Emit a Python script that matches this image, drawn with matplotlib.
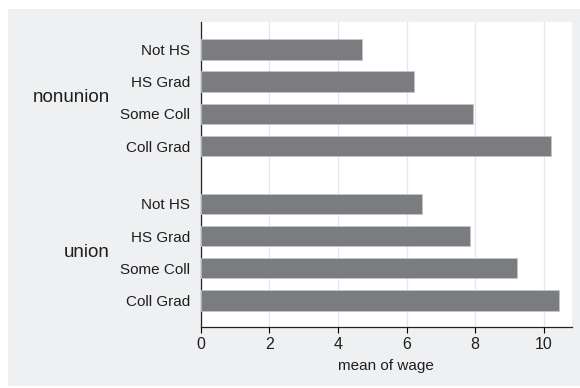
import matplotlib
matplotlib.use("Agg")
import matplotlib.pyplot as plt
import matplotlib.transforms as mtransforms
from matplotlib.patches import Rectangle

plt.rcParams['font.family'] = ['Liberation Sans', 'DejaVu Sans']

# data
groups = ['nonunion', 'union']
levels = ['Not HS', 'HS Grad', 'Some Coll', 'Coll Grad']
nonunion_wage = [4.69, 6.23, 7.93, 10.21]
union_wage = [6.44, 7.86, 9.22, 10.43]
x_ticks = [0, 2, 4, 6, 8, 10]

bar_color = '#7b7c80'
bg_color = '#eff0f2'
txt = '#1e1e1e'

fig = plt.figure(figsize=(5.8, 3.88), dpi=100)
fig.patch.set_facecolor('white')
# gray panel behind the plot
fig.patches.append(Rectangle((8 / 580, 2 / 388), 572 / 580, 377 / 388,
                             transform=fig.transFigure, facecolor=bg_color,
                             edgecolor='none', zorder=-10))

ax = fig.add_axes([200.5 / 580, 61 / 388, 371.5 / 580, 305 / 388])
ax.set_zorder(1)
ax.set_facecolor('white')

gap = 1.8
pos_non = [i for i in range(len(levels))]
pos_uni = [i + len(levels) - 1 + gap for i in range(len(levels))]

ax.barh(pos_non, nonunion_wage, height=0.64, color=bar_color,
        edgecolor='#c4c5c8', linewidth=0.6, zorder=3)
ax.barh(pos_uni, union_wage, height=0.64, color=bar_color,
        edgecolor='#c4c5c8', linewidth=0.6, zorder=3)

ax.set_ylim(pos_uni[-1] + 0.83, -0.86)
ax.set_xlim(0, 10.82)

ax.set_yticks(pos_non + pos_uni)
ax.set_yticklabels(levels + levels, fontsize=11, color=txt)
ax.tick_params(axis='y', length=0, pad=7.5)

ax.set_xticks(x_ticks)
ax.set_xticklabels([str(t) for t in x_ticks], fontsize=11.5, color=txt)
ax.tick_params(axis='x', length=4, width=0.8, pad=3)
ax.grid(axis='x', color='#e6e6e8', linewidth=0.9, zorder=0)
ax.set_axisbelow(True)
ax.set_xlabel('mean of wage', fontsize=11, color=txt, labelpad=5)

for side in ['top', 'right']:
    ax.spines[side].set_visible(False)
for side in ['left', 'bottom']:
    ax.spines[side].set_linewidth(0.9)
    ax.spines[side].set_color('#222222')

# group labels
trans = mtransforms.blended_transform_factory(fig.transFigure, ax.transData)
ax.text(110 / 580, sum(pos_non) / len(pos_non), groups[0], transform=trans,
        ha='right', va='center', fontsize=13.5, color=txt)
ax.text(110 / 580, sum(pos_uni) / len(pos_uni), groups[1], transform=trans,
        ha='right', va='center', fontsize=13.5, color=txt)

fig.savefig('out.png', dpi=100)
